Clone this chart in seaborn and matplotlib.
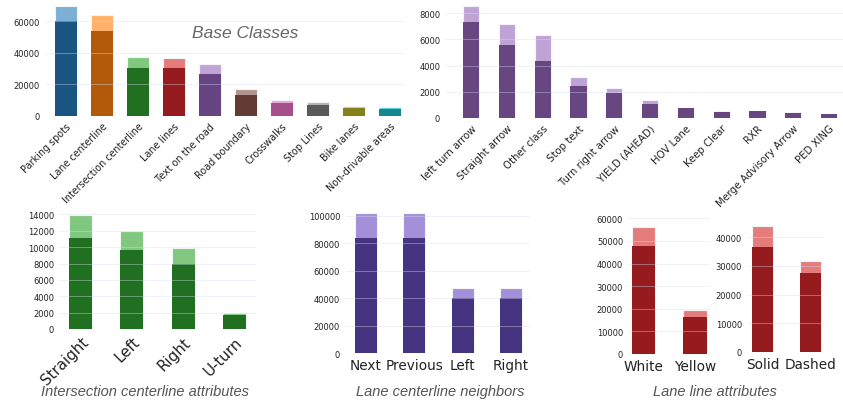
import numpy as np
import pandas as pd
import matplotlib
matplotlib.use("Agg")
import matplotlib.pyplot as plt
import seaborn as sns

# ---- Data ----
base_classes = ["Parking spots", "Lane centerline", "Intersection centerline", "Lane lines",
                "Text on the road", "Road boundary", "Crosswalks", "Stop Lines", "Bike lanes",
                "Non-drivable areas"]
base_total = [69500, 63800, 37300, 36500, 33000, 17000, 10200, 8800, 6200, 5800]
base_dark = [59700, 53700, 30300, 30500, 26500, 13500, 8000, 7000, 5000, 4500]
base_light_colors = ["#7bafd4", "#ffb06a", "#80c880", "#e57c7c", "#c0a4d8",
                     "#b59390", "#eaa6d8", "#b3b3b3", "#dad67b", "#5ed0dc"]
base_dark_colors = ["#1a5480", "#b35a0a", "#217021", "#951b1e", "#674582",
                    "#633b33", "#a5508a", "#5a5a5a", "#858019", "#148792"]

text_classes = ["left turn arrow", "Straight arrow", "Other class", "Stop text",
                "Turn right arrow", "YIELD (AHEAD)", "HOV Lane", "Keep Clear", "RXR",
                "Merge Advisory Arrow", "PED XING"]
text_total = [8530, 7160, 6320, 3120, 2290, 1370, 760, 560, 540, 430, 340]
text_dark = [7310, 5560, 4340, 2440, 1900, 1070, 730, 470, 500, 350, 320]

inter_attrs = ["Straight", "Left", "Right", "U-turn"]
inter_total = [13900, 11920, 9850, 1950]
inter_dark = [11070, 9640, 7930, 1670]

neighbor_cats = ["Next", "Previous", "Left", "Right"]
neighbor_total = [102000, 102000, 47200, 47200]
neighbor_dark = [83800, 83800, 40000, 40000]

color_cats = ["White", "Yellow"]
color_total = [56200, 19300]
color_dark = [47800, 16200]

style_cats = ["Solid", "Dashed"]
style_total = [44000, 31700]
style_dark = [36600, 27600]


def stacked(ax, cats, total, dark, light_c, dark_c, width):
    df = pd.DataFrame({"cat": cats, "total": total, "dark": dark})
    if isinstance(light_c, list):
        sns.barplot(data=df, x="cat", y="total", hue="cat", palette=light_c, legend=False,
                    width=width, ax=ax, edgecolor="#f4f4f8", linewidth=0.8, saturation=1)
        sns.barplot(data=df, x="cat", y="dark", hue="cat", palette=dark_c, legend=False,
                    width=width, ax=ax, edgecolor="none", saturation=1)
    else:
        sns.barplot(data=df, x="cat", y="total", color=light_c, width=width, ax=ax,
                    edgecolor="#f4f4f8", linewidth=0.8, saturation=1)
        sns.barplot(data=df, x="cat", y="dark", color=dark_c, width=width, ax=ax,
                    edgecolor="none", saturation=1)
    ax.set_xlabel("")
    ax.set_ylabel("")
    for s in ax.spines.values():
        s.set_visible(False)
    ax.set_axisbelow(False)
    ax.grid(axis="y", color="#d5ddf3", alpha=0.4, linewidth=0.7)
    ax.grid(axis="x", visible=False)
    ax.tick_params(axis="y", length=2.5, color="#888888", labelcolor="#222222", pad=1,
                   labelsize=6)
    ax.tick_params(axis="x", length=2.5, color="#aaaaaa", labelcolor="#222222", pad=1)
    ax.ticklabel_format(axis="y", style="plain")


sns.set_style("white")
plt.rcParams["font.family"] = ["DejaVu Sans"]

fig = plt.figure(figsize=(8.43, 4.06), dpi=100)
W, H = 843.0, 406.0


def add_axes(l, r, b, t):
    return fig.add_axes([l / W, 1 - b / H, (r - l) / W, (b - t) / H])


# Base classes
ax1 = add_axes(45, 405, 117, 3)
stacked(ax1, base_classes, base_total, base_dark, base_light_colors, base_dark_colors, 0.6)
ax1.set_xlim(-0.58, 9.42)
ax1.set_ylim(0, 72000)
ax1.set_yticks([0, 20000, 40000, 60000])
ax1.set_xticks(range(len(base_classes)))
ax1.set_xticklabels(base_classes, rotation=45, ha="right", rotation_mode="anchor", fontsize=6.9)
ax1.text(0.555, 0.73, "Base Classes", transform=ax1.transAxes, fontsize=12.5, style="italic",
         color="#666666", ha="center", va="center", family=["Liberation Sans"])

# Text on the road
ax2 = add_axes(445, 843, 119, 3)
stacked(ax2, text_classes, text_total, text_dark, "#bfa3d6", "#674682", 0.45)
ax2.set_xlim(-0.73, 10.39)
ax2.set_ylim(0, 8840)
ax2.set_yticks(range(0, 8001, 2000))
ax2.set_xticks(range(len(text_classes)))
ax2.set_xticklabels(text_classes, rotation=45, ha="right", rotation_mode="anchor", fontsize=7.3)

# Intersection centerline attributes
ax3 = add_axes(59, 256, 330, 213)
stacked(ax3, inter_attrs, inter_total, inter_dark, "#80c880", "#217021", 0.45)
ax3.set_xlim(-0.42, 3.42)
ax3.set_ylim(0, 14300)
ax3.set_yticks(range(0, 14001, 2000))
ax3.set_xticks(range(len(inter_attrs)))
ax3.set_xticklabels(inter_attrs, rotation=45, ha="right", rotation_mode="anchor", fontsize=10.8)

# Lane centerline neighbors
ax4 = add_axes(345, 530, 354, 212)
stacked(ax4, neighbor_cats, neighbor_total, neighbor_dark, "#a390d8", "#453580", 0.45)
ax4.set_xlim(-0.43, 3.39)
ax4.set_ylim(0, 103400)
ax4.set_yticks(range(0, 100001, 20000))
ax4.set_xticks(range(len(neighbor_cats)))
ax4.set_xticklabels(neighbor_cats, fontsize=9.8)

# Lane line colors
ax5 = add_axes(628, 710, 355, 217)
stacked(ax5, color_cats, color_total, color_dark, "#e57c7c", "#951b1e", 0.45)
ax5.set_xlim(-0.3, 1.29)
ax5.set_ylim(0, 61000)
ax5.set_yticks(range(0, 60001, 10000))
ax5.set_xticks(range(len(color_cats)))
ax5.set_xticklabels(color_cats, fontsize=9.8)

# Lane line styles
ax6 = add_axes(747, 825, 353, 223)
stacked(ax6, style_cats, style_total, style_dark, "#e57c7c", "#951b1e", 0.45)
ax6.set_xlim(-0.33, 1.31)
ax6.set_ylim(0, 45300)
ax6.set_yticks(range(0, 40001, 10000))
ax6.set_xticks(range(len(style_cats)))
ax6.set_xticklabels(style_cats, fontsize=9.8)

# Captions
for x, label in [(145, "Intersection centerline attributes"),
                 (440, "Lane centerline neighbors"),
                 (715, "Lane line attributes")]:
    fig.text(x / W, 1 - 392 / H, label, fontsize=10.5, style="italic", color="#555555",
             ha="center", va="center", family=["Liberation Sans"])

fig.savefig("out.png", dpi=100)
